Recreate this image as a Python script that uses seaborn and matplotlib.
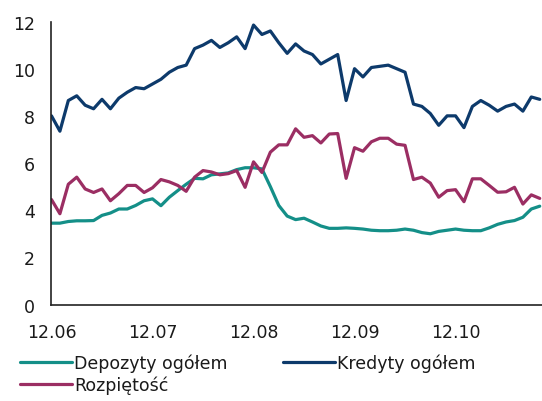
import pandas as pd
import numpy as np
import seaborn as sns
import matplotlib.pyplot as plt

# monthly values, 12.06 onwards
depozyty = [3.45, 3.45, 3.52, 3.55, 3.55, 3.56, 3.78, 3.88, 4.05, 4.05,
            4.2, 4.4, 4.48, 4.19, 4.55, 4.83, 5.1, 5.35, 5.33, 5.5,
            5.54, 5.58, 5.72, 5.8, 5.8, 5.75, 5.0, 4.2, 3.75, 3.6,
            3.66, 3.5, 3.33, 3.23, 3.23, 3.25, 3.23, 3.2, 3.15, 3.13,
            3.13, 3.15, 3.2, 3.15, 3.05, 3.0, 3.1, 3.15, 3.2, 3.15,
            3.13, 3.13, 3.25, 3.4, 3.5, 3.56, 3.7, 4.05, 4.17]
kredyty = [8.0, 7.35, 8.65, 8.85, 8.45, 8.3, 8.7, 8.3, 8.75, 9.0,
           9.2, 9.15, 9.35, 9.55, 9.85, 10.05, 10.15, 10.85, 11.0, 11.2,
           10.9, 11.1, 11.35, 10.85, 11.85, 11.45, 11.6, 11.1, 10.65, 11.05,
           10.75, 10.6, 10.2, 10.4, 10.6, 8.65, 10.0, 9.65, 10.05, 10.1,
           10.15, 10.0, 9.85, 8.5, 8.4, 8.1, 7.6, 8.0, 8.0, 7.5,
           8.4, 8.65, 8.45, 8.2, 8.4, 8.5, 8.2, 8.8, 8.7]
rozpietosc = [4.45, 3.85, 5.1, 5.4, 4.9, 4.75, 4.9, 4.4, 4.7, 5.05,
              5.05, 4.75, 4.95, 5.3, 5.2, 5.05, 4.8, 5.4, 5.68, 5.62,
              5.5, 5.55, 5.68, 4.97, 6.05, 5.6, 6.46, 6.77, 6.77, 7.45,
              7.09, 7.16, 6.85, 7.23, 7.25, 5.35, 6.65, 6.5, 6.9, 7.05,
              7.05, 6.8, 6.75, 5.3, 5.4, 5.15, 4.55, 4.83, 4.87, 4.36,
              5.33, 5.33, 5.05, 4.76, 4.78, 4.97, 4.26, 4.65, 4.5]
tick_labels = ["12.06", "12.07", "12.08", "12.09", "12.10"]

names = ["Depozyty ogółem", "Kredyty ogółem", "Rozpiętość"]
colors = ["#148f88", "#0d3a6b", "#9b2e63"]

n = len(kredyty)
df = pd.DataFrame({
    "m": np.tile(np.arange(n), 3),
    "val": depozyty + kredyty + rozpietosc,
    "seria": np.repeat(names, n),
})

sns.set_style("white")
plt.rcParams['font.family'] = ['DejaVu Sans']

fig = plt.figure(figsize=(5.42, 4.02), dpi=100)
ax = fig.add_axes([0.095, 0.24, 0.905, 0.704])

sns.lineplot(data=df, x="m", y="val", hue="seria", hue_order=names,
             palette=dict(zip(names, colors)), linewidth=2.3, ax=ax,
             legend=False)

ax.set_xlim(0, 58.27)
ax.set_ylim(0, 12)
ax.set_yticks(range(0, 13, 2))
ax.set_xticks([0, 12, 24, 36, 48])
ax.set_xticklabels(tick_labels)
ax.set_xlabel("")
ax.set_ylabel("")

for s in ["top", "right"]:
    ax.spines[s].set_visible(False)
for s in ["left", "bottom"]:
    ax.spines[s].set_color("#222222")
    ax.spines[s].set_linewidth(1.2)

ax.tick_params(axis="both", direction="out", length=6, width=1.2,
               color="#222222", labelsize=12.5, labelcolor="#1a1a1a")
ax.tick_params(axis="x", pad=7)
ax.tick_params(axis="y", pad=6)

# legend: row 1 Depozyty / Kredyty, row 2 Rozpietosc
order = [0, 2, 1]
handles = [plt.Line2D([], [], color=colors[i], linewidth=2.3) for i in order]
labels = [names[i] for i in order]
fig.legend(handles, labels, loc="upper left", bbox_to_anchor=(0.037, 0.117),
           ncol=2, frameon=False, fontsize=12.5, handlelength=3.0,
           handletextpad=0.1, columnspacing=3.2, labelspacing=0.2,
           borderaxespad=0, borderpad=0, labelcolor="#1a1a1a")

fig.savefig("out.png", dpi=100)
